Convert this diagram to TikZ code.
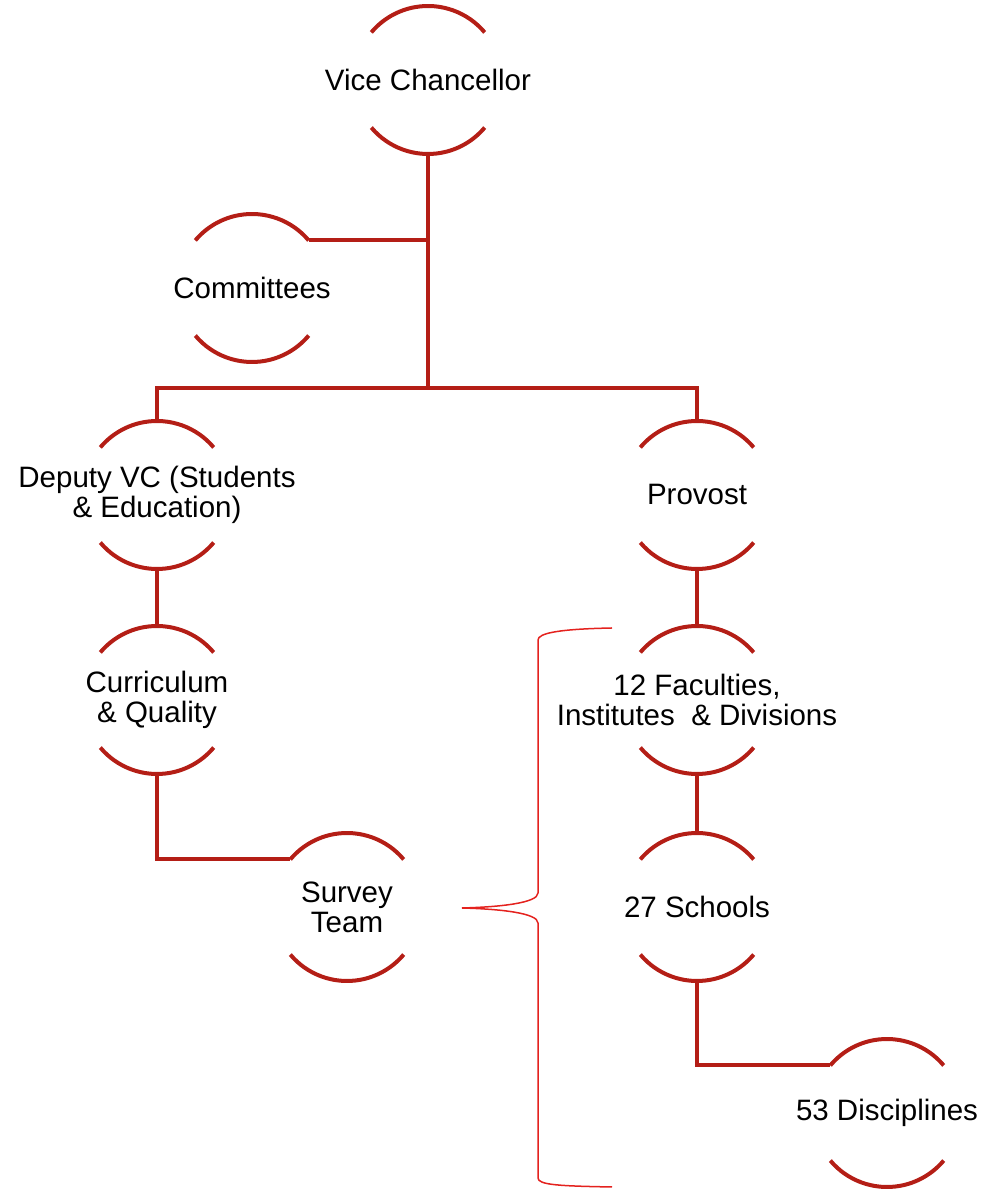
\documentclass[tikz,border=0pt]{standalone}
\usepackage{fontspec}
\setmainfont{Liberation Sans}
\definecolor{darkred}{RGB}{180,30,22}
\definecolor{bracered}{RGB}{228,34,30}
\begin{document}
\begin{tikzpicture}[x=1pt,y=1pt,
  unit/.style={circle,minimum size=148pt,inner sep=0pt,outer sep=0pt},
  txt/.style={align=center,inner sep=0pt,font=\fontsize{29.5}{30}\selectfont},
  link/.style={draw=darkred,line width=4pt,line join=miter},
  bracestyle/.style={draw=bracered,line width=1.5pt}]
\useasboundingbox (0,0) rectangle (984,1189);
\node[unit,label={[txt]center:Vice Chancellor}] (vc) at (428,1109) {};
\node[unit,label={[txt]center:Committees}] (com) at (252,901) {};
\node[unit,label={[txt]center:{Deputy VC (Students\\ \& Education)}}] (dep) at (157,694) {};
\node[unit,label={[txt]center:Provost}] (prov) at (697,694) {};
\node[unit,label={[txt]center:{Curriculum\\ \& Quality}}] (cur) at (157,489) {};
\node[unit,label={[txt]center:{12 Faculties,\\ Institutes\ \ \& Divisions}}] (fac) at (697,489) {};
\node[unit,label={[txt]center:{Survey\\ Team}}] (sur) at (347,282) {};
\node[unit,label={[txt]center:27 Schools}] (sch) at (697,282) {};
\node[unit,label={[txt]center:53 Disciplines}] (dis) at (887,76) {};
\foreach \n in {vc,com,dep,prov,cur,fac,sur,sch,dis}{
  \draw[link] (\n.40) arc[start angle=40,end angle=140,radius=74];
  \draw[link] (\n.220) arc[start angle=220,end angle=320,radius=74];
}
\coordinate (bus) at (428,801);
\draw[link] (vc.south) -- (bus);
\draw[link] (com.40) -- (com.40 -| vc.south);
\draw[link] (dep.north) -- (dep.north |- bus) -- (prov.north |- bus) -- (prov.north);
\draw[link] (dep.south) -- (cur.north);
\draw[link] (cur.south) |- (sur.140);
\draw[link] (prov.south) -- (fac.north);
\draw[link] (fac.south) -- (sch.north);
\draw[link] (sch.south) |- (dis.140);
\coordinate (btop) at (612,561);
\coordinate (btip) at (462,281);
\coordinate (bbot) at (612,2);
\draw[bracestyle] (btop) .. controls (560,560) and (538,556) .. (538,549) -- (538,296)
  .. controls (538,286) and (500,282) .. (btip)
  .. controls (500,280) and (538,276) .. (538,266) -- (538,11)
  .. controls (538,4) and (560,3) .. (bbot);
\end{tikzpicture}
\end{document}
